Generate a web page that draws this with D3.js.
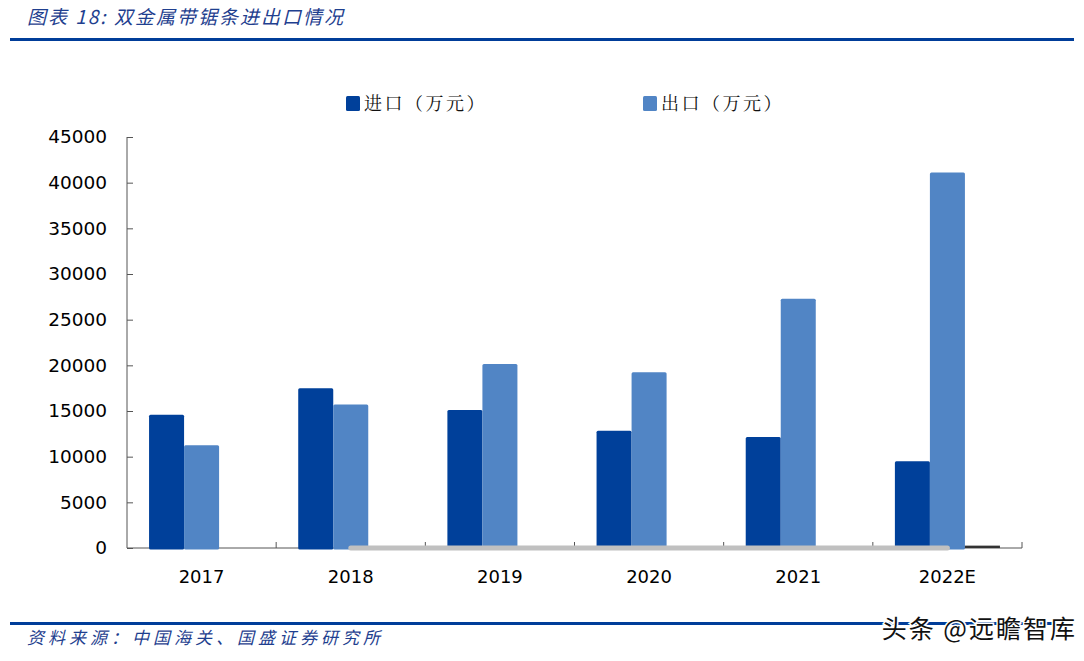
<!DOCTYPE html>
<html><head><meta charset="utf-8">
<script src="https://cdn.jsdelivr.net/npm/d3@7"></script>
<style>body{margin:0;background:#fff}svg{display:block}</style>
</head><body>
<svg id="c" width="1084" height="661"></svg>
<script>
const categories = ["2017","2018","2019","2020","2021","2022E"];
const importVals = [14600,17500,15100,12850,12150,9500];
const exportVals = [11250,15700,20150,19250,27300,41100];
const otherVals  = [0,0,0,0,0,150];
const lineVals   = [null,0,0,0,0,0];
const yTicks = [0,5000,10000,15000,20000,25000,30000,35000,40000,45000];
const seriesNames = ["进口（万元）","出口（万元）"];

(function(){
const svg = d3.select("#c");
const pL=127,pR=1022,pT=137,pB=548;
const cImp="#00409A",cExp="#5185C5";

// header
svg.append("text").attr("x",27).attr("y",24).attr("fill","#1F3F8F")
  .attr("font-family","'Noto Sans CJK SC','DejaVu Serif',serif").attr("font-style","italic")
  .attr("font-size",19).attr("letter-spacing",2).text("图表 18:  双金属带锯条进出口情况");
svg.append("rect").attr("x",10).attr("y",38).attr("width",1064).attr("height",3).attr("fill","#003D99");
svg.append("rect").attr("x",10).attr("y",622).attr("width",1064).attr("height",3).attr("fill","#003D99");
svg.append("text").attr("x",27).attr("y",644).attr("fill","#1F3F8F")
  .attr("font-family","'Noto Sans CJK SC',serif").attr("font-style","italic")
  .attr("font-size",17).attr("letter-spacing",4).text("资料来源：中国海关、国盛证券研究所");
svg.append("text").attr("x",1077).attr("y",638).attr("text-anchor","end").attr("fill","#111")
  .attr("stroke","#fff").attr("stroke-width",3).attr("paint-order","stroke")
  .attr("font-family","'Noto Sans CJK SC',sans-serif").attr("font-size",25).attr("letter-spacing",2).text("头条 @远瞻智库");

const x0 = d3.scaleBand().domain(categories).range([pL,pR]).paddingInner(0).paddingOuter(0);
const x1 = d3.scaleBand().domain([0,1,2]).range([0,x0.bandwidth()]).paddingInner(0).paddingOuter(0.63);
const y = d3.scaleLinear().domain([0,45000]).range([pB,pT]);

// y axis
const yAxis = d3.axisLeft(y).tickValues(yTicks).tickSize(-6).tickPadding(20).tickFormat(d3.format("d"));
const ga = svg.append("g").attr("transform",`translate(${pL},0)`).call(yAxis);
ga.select(".domain").attr("stroke","#555").attr("d",`M0,${pT}V${pB}`);
ga.selectAll(".tick line").attr("stroke","#555");
ga.selectAll(".tick text").attr("font-family","Tahoma,'DejaVu Sans',sans-serif").attr("font-size",18.5).attr("fill","#000");

// x axis
const gx = svg.append("g").attr("transform",`translate(0,${pB})`);
gx.append("line").attr("x1",pL).attr("x2",pR).attr("stroke","#555");
gx.selectAll("line.sep").data(categories.slice(1).concat(["end"])).join("line").attr("class","sep")
  .attr("x1",(d,i)=>pL+(i+1)*x0.bandwidth()).attr("x2",(d,i)=>pL+(i+1)*x0.bandwidth())
  .attr("y1",0).attr("y2",-6).attr("stroke","#555");
gx.selectAll("text").data(categories).join("text")
  .attr("x",d=>x0(d)+x0.bandwidth()/2).attr("y",35).attr("text-anchor","middle")
  .attr("font-family","Tahoma,'DejaVu Sans',sans-serif").attr("font-size",18).attr("fill","#000").text(d=>d);

// bars
const series=[{v:importVals,c:cImp,i:0},{v:exportVals,c:cExp,i:1}];
series.forEach(s=>{
  svg.append("g").selectAll("rect").data(categories).join("rect")
    .attr("x",d=>x0(d)+x1(s.i)).attr("width",x1.bandwidth())
    .attr("y",(d,j)=>y(s.v[j])).attr("height",(d,j)=>y(0)-y(s.v[j])+1.5)
    .attr("fill",s.c).attr("rx",1.5);
});
svg.append("g").selectAll("rect").data(categories).join("rect")
  .attr("x",d=>x0(d)+x1(2)).attr("width",x1.bandwidth())
  .attr("y",(d,j)=>y(otherVals[j])-1).attr("height",(d,j)=>otherVals[j]>0?y(0)-y(otherVals[j])+1:0)
  .attr("fill","#333");

// gray line series
const line = d3.line().defined(d=>d.v!==null).x(d=>x0(d.c)+x0.bandwidth()/2).y(d=>y(d.v));
svg.append("path").datum(categories.map((c,i)=>({c,v:lineVals[i]})))
  .attr("d",line).attr("fill","none").attr("stroke","#C0C0C0").attr("stroke-width",5).attr("stroke-linecap","round");

// legend
const leg=[{x:346,c:cImp,t:seriesNames[0]},{x:643,c:cExp,t:seriesNames[1]}];
leg.forEach(l=>{
  svg.append("rect").attr("x",l.x).attr("y",96).attr("width",14).attr("height",15).attr("fill",l.c).attr("rx",1.5);
  svg.append("text").attr("x",l.x+18).attr("y",110).attr("font-family","'Noto Serif CJK SC','Noto Sans CJK SC',serif")
    .attr("font-size",18).attr("letter-spacing",2.5).attr("fill","#111").text(l.t);
});
})();
</script>
</body></html>
